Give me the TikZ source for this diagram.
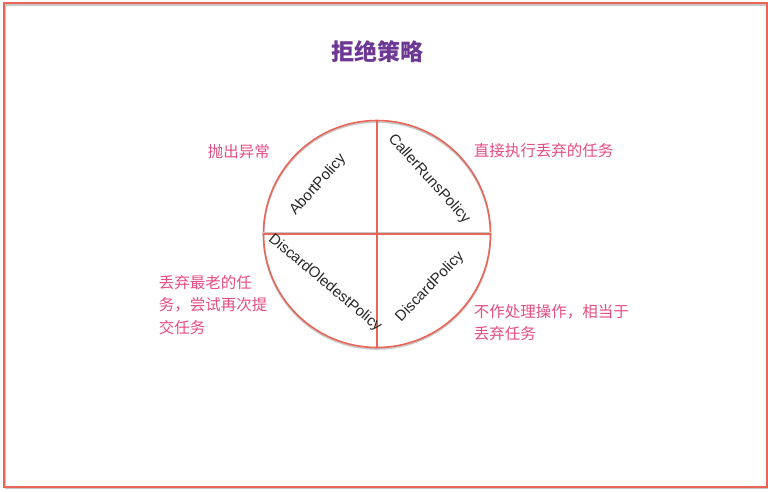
\documentclass[tikz,border=0pt]{standalone}
\usepackage{fontspec}
\setmainfont{Liberation Sans}
\newfontfamily\cjk{Noto Sans CJK SC}
\definecolor{FrameRed}{RGB}{233,101,88}
\definecolor{NotePink}{RGB}{231,76,130}
\definecolor{TitlePurple}{RGB}{108,56,148}

\begin{document}
\begin{tikzpicture}[x=1pt,y=1pt,yscale=-1,
	note/.style={anchor=west, inner sep=0.75pt, text=NotePink, align=left, font=\cjk\fontsize{15.5}{22.5}\selectfont},
	policy/.style={inner sep=0.75pt, text=black!85, font=\fontsize{15}{18}\selectfont},
	redline/.style={draw=FrameRed, line width=1.6pt},
	greyline/.style={draw=black!22, line width=1.6pt}]
		\useasboundingbox (0,0) rectangle (768,491);

		% Outer frame with its grey shadow
		\draw[greyline] (5.5,4.8) rectangle (768,488.6);
		\draw[redline] (4,3) rectangle (766.8,487);

		% Title
		\node[text=TitlePurple, font=\cjk\bfseries\fontsize{23}{26}\selectfont] (title) at (377.5,52) {拒绝策略};

		% The wheel, split in four
		\draw[greyline] (377,235.5) circle (113.5);
		\node[circle, redline, minimum size=227pt, inner sep=0pt] (wheel) at (377,234) {};
		\draw[greyline] ([yshift=-1.5pt]wheel.west) -- ([yshift=-1.5pt]wheel.east);
		\draw[redline] (wheel.north) -- (wheel.south);
		\draw[redline] (wheel.west) -- (wheel.east);

		% Policy names in the quarters
		\node[policy, rotate=48] (abort) at (318,185) {AbortPolicy};
		\node[policy, rotate=-48] (callerruns) at (429,179) {CallerRunsPolicy};
		\node[policy, rotate=-40] (discardoldest) at (325,283) {DiscardOledestPolicy};
		\node[policy, rotate=46] (discard) at (430,287) {DiscardPolicy};

		% Notes beside the wheel
		\node[note] (abortnote) at (207,152) {抛出异常};
		\node[note] (callernote) at (473,151) {直接执行丢弃的任务};
		\node[note] (oldestnote) at (158,305) {丢弃最老的任\\务，尝试再次提\\交任务};
		\node[note] (discardnote) at (473,322.5) {不作处理操作，相当于\\丢弃任务};
	\end{tikzpicture}
\end{document}
